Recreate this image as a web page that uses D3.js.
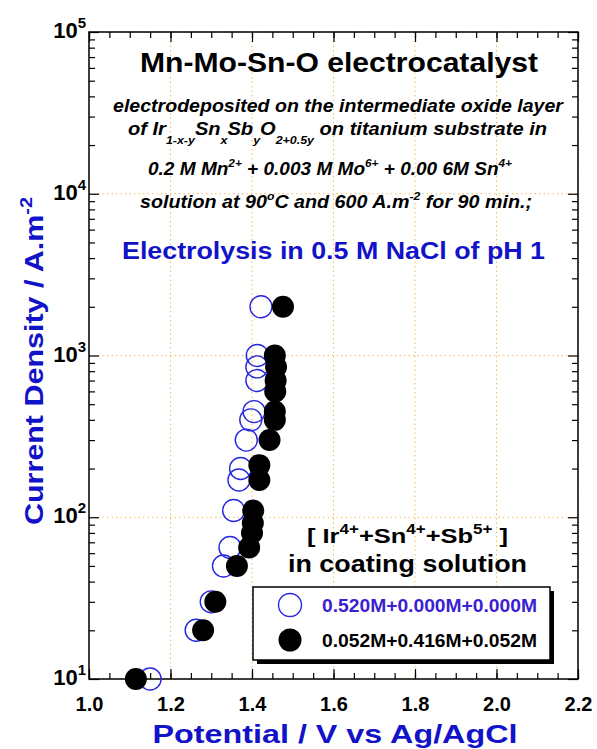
<!DOCTYPE html>
<html>
<head>
<meta charset="utf-8">
<script src="https://cdn.jsdelivr.net/npm/d3@7/dist/d3.min.js"></script>
<style>
  body { margin: 0; background: #fff; }
  svg { display: block; font-family: "Liberation Sans", Arial, sans-serif; }
  .frame { fill: none; stroke: #000; stroke-width: 1.5; }
  .grid line { stroke: #f7b860; stroke-width: 1; stroke-dasharray: 1.5,3; }
  .tick line { stroke: #000; stroke-width: 1.2; }
</style>
</head>
<body>
<svg id="chart" width="597" height="749"></svg>
<script>
// data
var potentialOpen = [1.150, 1.263, 1.300, 1.330, 1.346, 1.355, 1.368, 1.372, 1.386, 1.397, 1.405, 1.412, 1.412, 1.413, 1.422];
var currentOpen   = [10, 20, 30, 50, 65, 110, 170, 200, 300, 400, 450, 700, 850, 1000, 2000];
var potentialFilled = [1.115, 1.280, 1.310, 1.363, 1.393, 1.400, 1.402, 1.403, 1.418, 1.418, 1.443, 1.456, 1.456, 1.457, 1.458, 1.459, 1.456, 1.476];
var currentFilled   = [10, 20, 30, 50, 65, 80, 92, 110, 170, 210, 300, 400, 450, 600, 700, 850, 1000, 2000];
var xTicks = [1.0, 1.2, 1.4, 1.6, 1.8, 2.0, 2.2];
var yTicks = [10, 100, 1000, 10000, 100000];
var legendLabels = ["0.520M+0.000M+0.000M", "0.052M+0.416M+0.052M"];

(function() {
var svg = d3.select("#chart"),
  pLeft = 89, pRight = 578, pTop = 32, pBottom = 679,
  blue = "#1212c8",
  x = d3.scaleLinear().domain([1.0, 2.2]).range([pLeft, pRight]),
  y = d3.scaleLog().domain([10, 100000]).range([pBottom, pTop]),
  xMinor = d3.range(1.0, 2.2001, 0.05).map(function(v) { return +v.toFixed(2); }),
  yMinor = [];

yTicks.slice(0, -1).forEach(function(d) {
  for (var k = 2; k <= 9; k++) yMinor.push(d * k);
});

// grid
var grid = svg.append("g").attr("class", "grid");
grid.selectAll(".gx").data(xTicks).enter().append("line")
  .attr("x1", x).attr("x2", x).attr("y1", pTop).attr("y2", pBottom + 1);
grid.selectAll(".gy").data(yTicks).enter().append("line")
  .attr("x1", pLeft).attr("x2", pRight + 2).attr("y1", y).attr("y2", y);

// axes with inward ticks
function addAxis(axis, tx, ty) {
  var g = svg.append("g").attr("transform", "translate(" + tx + "," + ty + ")").call(axis);
  g.select(".domain").remove();
  return g;
}
addAxis(d3.axisBottom(x).tickValues(xMinor).tickSize(-6).tickFormat(""), 0, pBottom);
addAxis(d3.axisTop(x).tickValues(xMinor).tickSize(-6).tickFormat(""), 0, pTop);
addAxis(d3.axisTop(x).tickValues(xTicks).tickSize(-10).tickFormat(""), 0, pTop);
addAxis(d3.axisLeft(y).tickValues(yMinor).tickSize(-6).tickFormat(""), pLeft, 0);
addAxis(d3.axisRight(y).tickValues(yMinor).tickSize(-6).tickFormat(""), pRight, 0);
addAxis(d3.axisRight(y).tickValues(yTicks).tickSize(-10).tickFormat(""), pRight, 0);
addAxis(d3.axisLeft(y).tickValues(yTicks).tickSize(-10).tickFormat(""), pLeft, 0);

var xAxis = addAxis(d3.axisBottom(x).tickValues(xTicks).tickSize(-10).tickPadding(18).tickFormat(d3.format(".1f")), 0, pBottom);
xAxis.selectAll("text")
  .attr("font-size", 20).attr("font-weight", "bold").attr("fill", "#000")
  .attr("font-family", "'Liberation Sans', Arial, sans-serif");

svg.append("rect").attr("class", "frame")
  .attr("x", pLeft).attr("y", pTop).attr("width", pRight - pLeft).attr("height", pBottom - pTop);

// y tick labels as 10^n
var yLab = svg.append("g").selectAll("text").data(yTicks).enter().append("text")
  .attr("x", 86).attr("y", function(d) { return y(d) + 6; })
  .attr("text-anchor", "end").attr("font-size", 22).attr("font-weight", "bold");
yLab.append("tspan").text("10");
yLab.append("tspan").attr("dy", -10).attr("font-size", 15)
  .text(function(d) { return Math.round(Math.log10(d)); });

// markers
svg.append("g").selectAll("circle").data(potentialOpen).enter().append("circle")
  .attr("cx", function(d) { return x(d); })
  .attr("cy", function(d, i) { return y(currentOpen[i]); })
  .attr("r", 11).attr("fill", "none").attr("stroke", "#2828e0").attr("stroke-width", 1.4);
svg.append("g").selectAll("circle").data(potentialFilled).enter().append("circle")
  .attr("cx", function(d) { return x(d); })
  .attr("cy", function(d, i) { return y(currentFilled[i]); })
  .attr("r", 11).attr("fill", "#000");

// text with sub/superscripts; the shift is undone on the following part
function richText(xPos, yPos, size, len, parts, style) {
  var t = svg.append("text").attr("x", xPos).attr("y", yPos)
    .attr("font-size", size).attr("font-weight", "bold")
    .attr("textLength", len).attr("lengthAdjust", "spacingAndGlyphs"),
    back = 0;
  if (style) t.attr("font-style", style);
  parts.forEach(function(p) {
    if (typeof p === "string") {
      t.append("tspan").attr("dy", -back).text(p);
      back = 0;
      return;
    }
    t.append("tspan").attr("dy", p.dy - back).attr("font-size", p.size || size * 0.62).text(p.t);
    back = p.dy;
  });
  return t;
}

richText(140, 72, 28, 398, ["Mn-Mo-Sn-O electrocatalyst"]);
richText(113, 112, 17.5, 450, ["electrodeposited on the intermediate oxide layer"], "italic");
richText(128, 135, 17.5, 419, ["of Ir", {t: "1-x-y", dy: 9}, "Sn", {t: "x", dy: 9}, "Sb", {t: "y", dy: 9}, "O",
  {t: "2+0.5y", dy: 9}, " on titanium substrate in"], "italic");
richText(148, 175, 17.5, 364, ["0.2 M Mn", {t: "2+", dy: -8}, " + 0.003 M Mo", {t: "6+", dy: -8},
  " + 0.00 6M Sn", {t: "4+", dy: -8}], "italic");
richText(140, 208, 17.5, 392, ["solution at 90", {t: "o", dy: -8}, "C and 600 A.m", {t: "-2", dy: -8},
  " for 90 min.;"], "italic");
richText(122, 259, 23, 423, ["Electrolysis in 0.5 M NaCl of pH 1"]).attr("fill", blue);

richText(307, 543, 21, 201, ["[ Ir", {t: "4+", dy: -9, size: 14}, "+Sn", {t: "4+", dy: -9, size: 14},
  "+Sb", {t: "5+", dy: -9, size: 14}, " ]"]);
richText(288, 572, 23, 239, ["in coating solution"]);

// legend
var lx = 253, ly = 587, lw = 297, lh = 73;
svg.append("rect").attr("x", lx + 4).attr("y", ly + 4).attr("width", lw).attr("height", lh).attr("fill", "#000");
svg.append("rect").attr("x", lx).attr("y", ly).attr("width", lw).attr("height", lh)
  .attr("fill", "#fff").attr("stroke", "#000").attr("stroke-width", 1.5);
var entries = svg.append("g").selectAll("g").data(legendLabels).enter().append("g")
  .attr("transform", function(d, i) { return "translate(0," + (605 + i * 35) + ")"; });
entries.append("circle").attr("cx", 290).attr("cy", 0).attr("r", 11.5)
  .attr("fill", function(d, i) { return i ? "#000" : "none"; })
  .attr("stroke", function(d, i) { return i ? "none" : "#2828e0"; })
  .attr("stroke-width", 1.4);
entries.append("text").attr("x", 322).attr("y", 7)
  .attr("font-size", 18).attr("font-weight", "bold")
  .attr("textLength", 215).attr("lengthAdjust", "spacingAndGlyphs")
  .attr("fill", function(d, i) { return i ? "#000" : "#3a22d0"; })
  .text(function(d) { return d; });

// axis titles
svg.append("text").attr("x", 335).attr("y", 743).attr("text-anchor", "middle")
  .attr("font-size", 26).attr("font-weight", "bold").attr("fill", blue)
  .attr("textLength", 365).attr("lengthAdjust", "spacingAndGlyphs")
  .text("Potential / V vs Ag/AgCl");

var yTitle = svg.append("text").attr("transform", "translate(43,525) rotate(-90)")
  .attr("font-size", 26).attr("font-weight", "bold").attr("fill", blue)
  .attr("textLength", 328).attr("lengthAdjust", "spacingAndGlyphs");
yTitle.append("tspan").text("Current Density / A.m");
yTitle.append("tspan").attr("dy", -11).attr("font-size", 17).text("-2");
})();
</script>
</body>
</html>
